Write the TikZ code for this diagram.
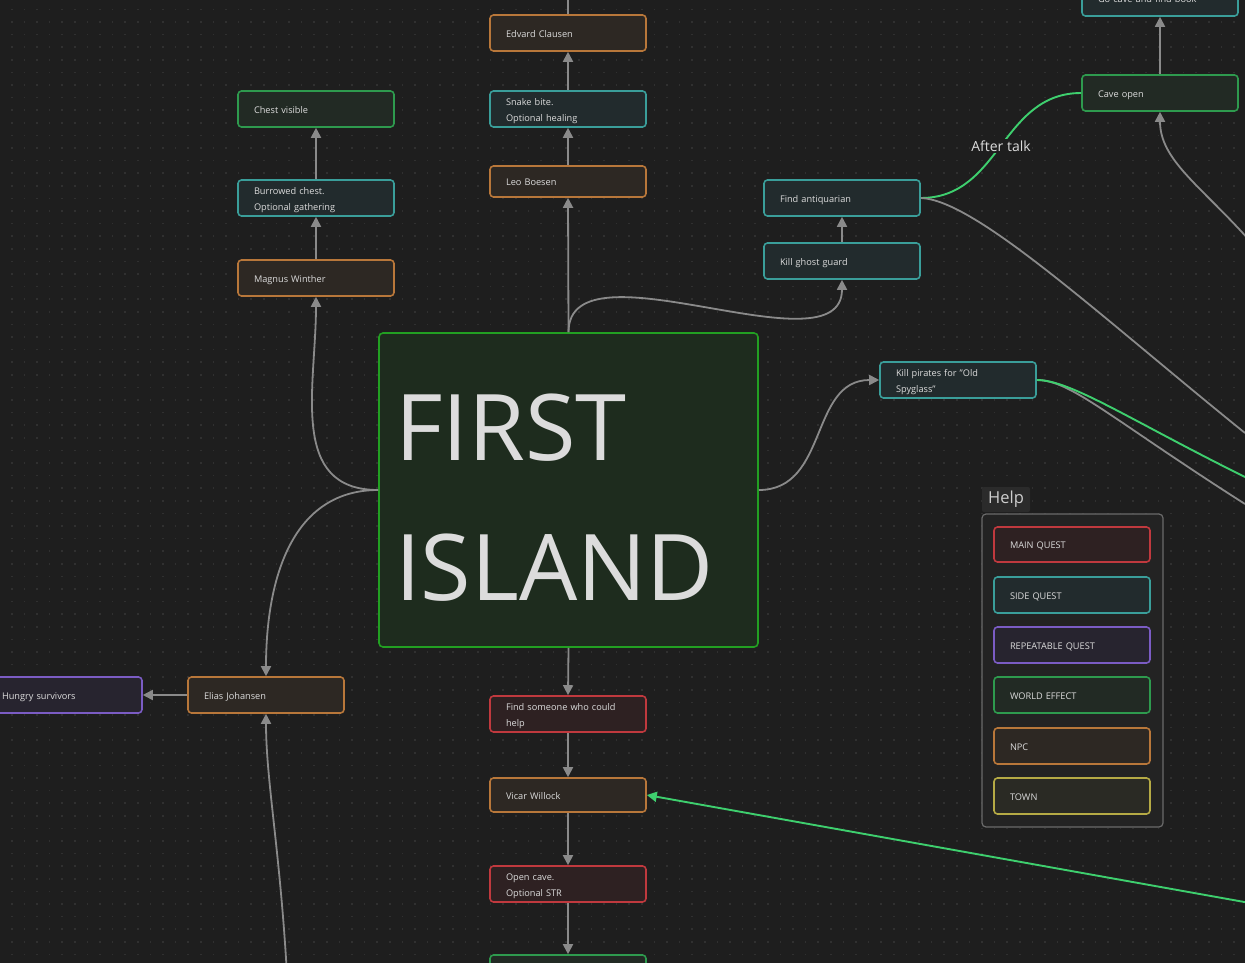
\documentclass[tikz,border=0pt]{standalone}
\usepackage{fontspec}
\setmainfont{Open Sans}
\usetikzlibrary{arrows.meta}
\definecolor{bg}{HTML}{1E1E1E}
\definecolor{dotc}{HTML}{303030}
\definecolor{txt}{HTML}{DCDCDC}
\definecolor{npcB}{HTML}{B8773A}
\definecolor{npcF}{HTML}{2D2823}
\definecolor{sideB}{HTML}{3A9E9A}
\definecolor{sideF}{HTML}{222B2D}
\definecolor{worldB}{HTML}{2E9A4E}
\definecolor{worldF}{HTML}{222A24}
\definecolor{mainB}{HTML}{C0393E}
\definecolor{mainF}{HTML}{2E2122}
\definecolor{repB}{HTML}{7B5CC4}
\definecolor{repF}{HTML}{27242F}
\definecolor{townB}{HTML}{B5AA45}
\definecolor{townF}{HTML}{2A2A24}
\definecolor{islB}{HTML}{22A022}
\definecolor{islF}{HTML}{1E2C1E}
\definecolor{edgeC}{HTML}{8A8A8A}
\definecolor{grn}{HTML}{3ECF6E}
\definecolor{legB}{HTML}{6A6A6A}
\definecolor{legF}{HTML}{232323}
\definecolor{helpF}{HTML}{2B2B2B}
\begin{document}
\begin{tikzpicture}[x=1pt,y=-1pt,
  box/.style={rounded corners=3.5pt, line width=1.6pt, minimum width=156pt, minimum height=36pt,
    text width=124pt, inner xsep=16pt, inner ysep=0pt, align=left, text=txt,
    font=\fontsize{9.2}{16}\selectfont, text height=9.6pt, text depth=1.4pt},
  two/.style={text height=9pt, text depth=15.4pt},
  npc/.style={box, draw=npcB, fill=npcF},
  side/.style={box, draw=sideB, fill=sideF},
  world/.style={box, draw=worldB, fill=worldF},
  mainq/.style={box, draw=mainB, fill=mainF},
  repq/.style={box, draw=repB, fill=repF},
  town/.style={box, draw=townB, fill=townF},
  edge/.style={draw=edgeC, line width=1.8pt, -{Triangle[length=10pt,width=10pt]}},
  plain/.style={draw=edgeC, line width=1.8pt},
  gedge/.style={draw=grn, line width=1.9pt, -{Triangle[length=10pt,width=10pt]}},
  gplain/.style={draw=grn, line width=1.9pt},
  bigtxt/.style={anchor=base west, inner sep=0pt, text=txt, font=\fontsize{92}{100}\selectfont}
]
\useasboundingbox (0,0) rectangle (1245,963);
\fill[bg] (0,0) rectangle (1245,963);
% dot grid
\foreach \r in {0,...,77} {
  \draw[dotc, line width=1.5pt, dash pattern=on 1.5pt off 11.1pt] (-1.6,{-3.2+12.6*\r}) -- (1250,{-3.2+12.6*\r});
}

% nodes
\node[side] (gocave) at (1160,-2) {Go cave and find book};
\node[world] (caveopen) at (1160,93) {Cave open};
\node[npc] (edvard) at (568,33) {Edvard Clausen};
\node[side, two] (snake) at (568,109) {Snake bite.\\Optional healing};
\node[npc, minimum height=31pt] (leo) at (568,181.5) {Leo Boesen};
\node[world] (chest) at (316,109) {Chest visible};
\node[side, two] (burrowed) at (316,198) {Burrowed chest.\\Optional gathering};
\node[npc] (magnus) at (316,278) {Magnus Winther};
\node[side] (antiq) at (842,198) {Find antiquarian};
\node[side] (ghost) at (842,261) {Kill ghost guard};
\node[side, two] (pirates) at (958,380) {Kill pirates for "Old\\Spyglass"};
\node[draw=islB, fill=islF, line width=1.6pt, rounded corners=4pt, minimum width=379pt, minimum height=314pt, inner sep=0pt] (island) at (568.5,490) {};
\node[bigtxt] (first) at (395,460) {FIRST};
\node[bigtxt] (isl) at (395,600) {ISLAND};
\node[mainq, two] (findsome) at (568,714) {Find someone who could\\help};
\node[npc, minimum height=34pt] (vicar) at (568,795) {Vicar Willock};
\node[mainq, two] (opencave) at (568,884) {Open cave.\\Optional STR};
\node[world] (bottomn) at (568,973) {};
\node[npc] (elias) at (266,695) {Elias Johansen};
\node[repq] (hungry) at (64,695) {Hungry survivors};

% legend
\node[draw=legB, fill=legF, line width=1.2pt, rounded corners=4pt, minimum width=181pt, minimum height=313pt, inner sep=0pt] (legend) at (1072.5,670.5) {};
\node[fill=helpF, rounded corners=2pt, minimum width=48pt, minimum height=25pt, inner sep=0pt, text=txt!85!gray, font=\fontsize{16.5}{18}\selectfont] (help) at (1006,499.5) {Help};
\node[mainq, minimum height=35pt] (lmain) at (1072,544.5) {MAIN QUEST};
\node[side] (lside) at (1072,595) {SIDE QUEST};
\node[repq] (lrep) at (1072,645) {REPEATABLE QUEST};
\node[world] (lworld) at (1072,695) {WORLD EFFECT};
\node[npc] (lnpc) at (1072,746) {NPC};
\node[town] (ltown) at (1072,796) {TOWN};

% coordinates for free ends
\coordinate (topin) at (568,-5);
\coordinate (r1) at (1245,433);
\coordinate (r2) at (1245,504);
\coordinate (r3) at (1245,477);
\coordinate (r4) at (1250,241);
\coordinate (r5) at (1250,903);
\coordinate (b1) at (287,975);

% edges
\draw[plain] (topin) -- (edvard.north);
\draw[edge] (snake.north) -- (edvard.south);
\draw[edge] (leo.north) -- (snake.south);
\draw[edge] (island.north) -- (leo.south);
\draw[edge] (island.north) .. controls +(0,-95) and +(0,95) .. (ghost.south);
\draw[edge] (ghost.north) -- (antiq.south);
\draw[gplain] (antiq.east) .. controls +(80,0) and +(-80,0) .. (caveopen.west);
\node[fill=bg, inner sep=1.5pt, text=txt, font=\fontsize{14}{16}\selectfont] (aftertalk) at (1001,146) {After talk};
\draw[plain] (antiq.east) .. controls +(55,2) and (1100,316) .. (r1);
\draw[edge] (caveopen.north) -- (gocave.south);
\draw[edge] (r4) .. controls (1200,185) and (1160,160) .. (caveopen.south);
\draw[edge] (island.east) .. controls +(70,0) and +(-70,0) .. (pirates.west);
\draw[plain] (pirates.east) .. controls +(34,0) and (1110,418) .. (r2);
\draw[gplain] (pirates.east) .. controls +(34,0) and (1130,420) .. (r3);
\draw[edge] (island.west) .. controls +(-90,0) and +(0,90) .. (magnus.south);
\draw[edge] (magnus.north) -- (burrowed.south);
\draw[edge] (burrowed.north) -- (chest.south);
\draw[edge] (island.west) .. controls +(-90,0) and +(0,-90) .. (elias.north);
\draw[edge] (elias.west) -- (hungry.east);
\draw[edge] (b1) .. controls (280,850) and (266,780) .. (elias.south);
\draw[edge] (island.south) -- (findsome.north);
\draw[edge] (findsome.south) -- (vicar.north);
\draw[edge] (vicar.south) -- (opencave.north);
\draw[edge] (opencave.south) -- (bottomn.north);
\draw[gedge] (r5) -- (vicar.east);
\end{tikzpicture}
\end{document}
